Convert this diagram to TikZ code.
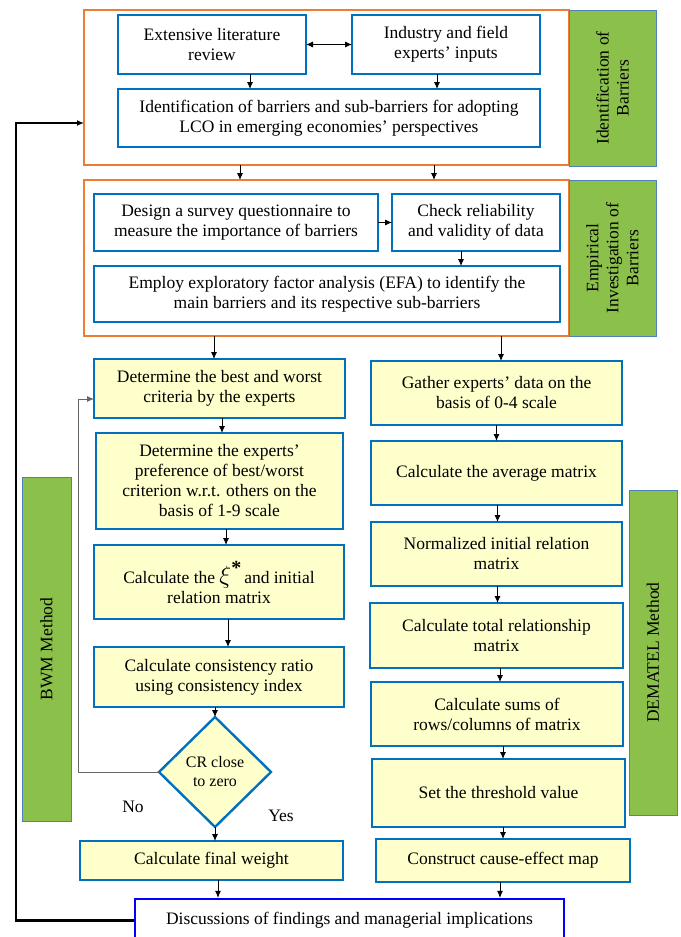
\documentclass[tikz,border=0pt]{standalone}
\usepackage{fontspec}
\setmainfont{Liberation Serif}
\usetikzlibrary{shapes.geometric, arrows.meta}

\definecolor{boxblue}{RGB}{0,112,192}
\definecolor{stageorange}{RGB}{237,125,49}
\definecolor{labelgreen}{RGB}{139,193,75}
\definecolor{labelframe}{RGB}{79,129,189}
\definecolor{stepyellow}{RGB}{255,255,204}

\begin{document}
\begin{tikzpicture}[x=1pt, y=-1pt,
    font=\fontsize{17.5}{20}\selectfont,
    >={Latex[length=7pt,width=6pt]},
    whitebox/.style={draw=boxblue, line width=2.4pt, fill=white, align=center, inner sep=0pt, outer sep=0pt},
    yellowbox/.style={whitebox, fill=stepyellow},
    stagebox/.style={draw=stageorange, line width=2pt, inner sep=0pt, outer sep=0pt},
    sidelabel/.style={draw=labelframe, fill=labelgreen, line width=1pt, align=center, inner sep=0pt, rotate=90},
    flow/.style={->, line width=0.9pt},
    retryline/.style={->, line width=0.9pt, gray!80!black},
    backline/.style={->, line width=2.2pt}]

    % Page size
    \def\pw{680}
    \def\ph{937}
    \useasboundingbox (0,0) rectangle (\pw,\ph);
    \clip (0,0) rectangle (\pw,\ph);

    % Stage 1: identification of barriers
    \node[stagebox, minimum width=485, minimum height=155] (stageA) at (326.5,87.5) {};
    \node[sidelabel, minimum width=156, minimum height=87] (labA) at (612.5,88) {Identification of\\Barriers};
    \node[whitebox, minimum width=188, minimum height=59] (lit) at (212,44.5) {Extensive literature\\review};
    \node[whitebox, minimum width=188, minimum height=59] (ind) at (446,44.5) {Industry and field\\experts' inputs};
    \node[whitebox, minimum width=422, minimum height=58] (idb) at (329,118) {Identification of barriers and sub-barriers for adopting\\LCO in emerging economies' perspectives};

    \draw[flow, <->] (lit.east) -- (ind.west);
    \draw[flow] ([xshift=38pt]lit.south) -- ([xshift=-79pt]idb.north);
    \draw[flow] ([xshift=-9pt]ind.south) -- ([xshift=108pt]idb.north);

    % Stage 2: empirical investigation
    \node[stagebox, minimum width=485, minimum height=156] (stageB) at (326.5,258) {};
    \node[sidelabel, minimum width=156, minimum height=87] (labB) at (612.5,258) {Empirical\\Investigation of\\Barriers};
    \node[whitebox, minimum width=284, minimum height=57] (des) at (236,222.5) {Design a survey questionnaire to\\measure the importance of barriers};
    \node[whitebox, minimum width=168, minimum height=57] (chk) at (476,222.5) {Check reliability\\and validity of data};
    \node[whitebox, minimum width=466, minimum height=56] (efa) at (327,294) {Employ exploratory factor analysis (EFA) to identify the\\main barriers and its respective sub-barriers};

    \draw[flow] ([xshift=-86.5pt]stageA.south) -- ([xshift=-86.5pt]stageB.north);
    \draw[flow] ([xshift=107.5pt]stageA.south) -- ([xshift=107.5pt]stageB.north);
    \draw[flow] (des.east) -- (chk.west);
    \draw[flow] ([xshift=-15pt]chk.south) -- ([xshift=134pt]efa.north);

    % BWM column
    \node[sidelabel, minimum width=344, minimum height=49] (bwm) at (46.5,649) {BWM Method};
    \node[yellowbox, minimum width=251, minimum height=59] (bw) at (219.5,388.5) {Determine the best and worst\\criteria by the experts};
    \node[yellowbox, minimum width=247, minimum height=96] (pref) at (219.5,481) {Determine the experts'\\preference of best/worst\\criterion w.r.t. others on the\\basis of 1-9 scale};
    \node[yellowbox, minimum width=250, minimum height=74] (xi) at (219,582) {Calculate the {\fontsize{23}{23}\selectfont$\xi$}\raisebox{9pt}{\fontsize{20}{20}\selectfont\bfseries *}\,and initial\\relation matrix};
    \node[yellowbox, minimum width=250, minimum height=60] (cr) at (219,677) {Calculate consistency ratio\\using consistency index};
    \node[yellowbox, diamond, minimum width=112, minimum height=110, font=\fontsize{16}{19}\selectfont] (dia) at (215,772) {CR close\\to zero};
    \node[yellowbox, minimum width=263, minimum height=39] (fw) at (211.5,860.5) {Calculate final weight};
    \node (no) at (133,807) {No};
    \node (yes) at (281,816) {Yes};

    \draw[flow] ([xshift=-112.5pt]stageB.south) -- ([xshift=-5.5pt]bw.north);
    \draw[flow] ([xshift=2.5pt]bw.south) -- ([xshift=2.5pt]pref.north);
    \draw[flow] ([xshift=6.5pt]pref.south) -- ([xshift=7pt]xi.north);
    \draw[flow] ([xshift=9pt]xi.south) -- ([xshift=9pt]cr.north);
    \draw[flow] ([xshift=-4pt]cr.south) -- (dia.north);
    \draw[flow] (dia.south) -- ([xshift=3.5pt]fw.north);

    % CR not close to zero: back to best/worst
    \coordinate (fbturn) at (78,0);
    \coordinate (bwin) at ([yshift=-10.5pt]bw.west);
    \draw[retryline] (dia.west) -| (fbturn |- bwin) -- (bwin);

    % DEMATEL column
    \node[sidelabel, minimum width=325, minimum height=48] (dem) at (653,652.5) {DEMATEL Method};
    \node[yellowbox, minimum width=251, minimum height=64] (gat) at (496.5,393) {Gather experts' data on the\\basis of 0-4 scale};
    \node[yellowbox, minimum width=251, minimum height=64] (avg) at (496.5,473) {Calculate the average matrix};
    \node[yellowbox, minimum width=251, minimum height=64] (nor) at (496.5,554) {Normalized initial relation\\matrix};
    \node[yellowbox, minimum width=253, minimum height=65] (tot) at (496.5,635.5) {Calculate total relationship\\matrix};
    \node[yellowbox, minimum width=252, minimum height=64] (sum) at (497,714) {Calculate sums of\\rows/columns of matrix};
    \node[yellowbox, minimum width=253, minimum height=68] (thr) at (498.5,793) {Set the threshold value};
    \node[yellowbox, minimum width=254, minimum height=43] (cem) at (503,860.5) {Construct cause-effect map};

    \draw[flow] ([xshift=174.5pt]stageB.south) -- ([xshift=4.5pt]gat.north);
    \draw[flow] (gat.south) -- (avg.north);
    \draw[flow] ([xshift=1pt]avg.south) -- ([xshift=1pt]nor.north);
    \draw[flow] ([xshift=1pt]nor.south) -- ([xshift=1pt]tot.north);
    \draw[flow] ([xshift=3.5pt]tot.south) -- ([xshift=3pt]sum.north);
    \draw[flow] ([xshift=6pt]sum.south) -- ([xshift=4.5pt]thr.north);
    \draw[flow] ([xshift=4.5pt]thr.south) -- (cem.north);

    % Discussions
    \node[draw=blue, line width=2.2pt, fill=white, inner sep=0pt, minimum width=429, minimum height=43] (dis) at (349.5,920.5) {Discussions of findings and managerial implications};
    \draw[flow] ([xshift=6.5pt]fw.south) -- ([xshift=-131.5pt]dis.north);
    \draw[flow] ([xshift=-3pt]cem.south) -- ([xshift=150.5pt]dis.north);

    % Back to stage 1
    \coordinate (loopx) at (16,0);
    \coordinate (stagein) at ([yshift=-35.5pt]stageA.west);
    \draw[backline] (dis.west) -| (loopx |- stagein) -- (stagein);

\end{tikzpicture}
\end{document}
